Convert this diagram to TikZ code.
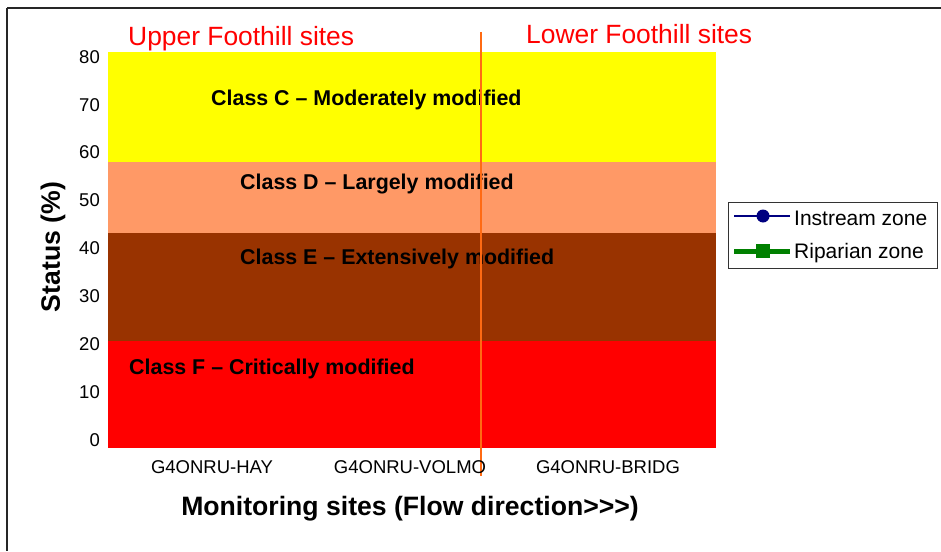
\documentclass[tikz,border=0pt]{standalone}
\usepackage{fontspec}
\setmainfont{Liberation Sans}
\definecolor{cYellow}{HTML}{FFFF00}
\definecolor{cPeach}{HTML}{FF9966}
\definecolor{cBrown}{HTML}{993300}
\definecolor{cRed}{HTML}{FF0000}
\definecolor{cOrange}{HTML}{FF6A13}
\definecolor{cNavy}{HTML}{000080}
\definecolor{cGreen}{HTML}{008000}
\tikzset{
  ticklbl/.style={anchor=east, inner sep=0pt, font=\fontsize{18.5}{20}\selectfont},
  sitelbl/.style={anchor=center, inner sep=0pt, font=\fontsize{18.5}{20}\selectfont},
  classlbl/.style={anchor=west, inner sep=0pt, font=\bfseries\fontsize{21.4}{24}\selectfont},
  zonelbl/.style={anchor=west, inner sep=0pt, text=cRed, font=\fontsize{26.4}{30}\selectfont},
  axtitle/.style={inner sep=0pt, font=\bfseries\fontsize{26.6}{30}\selectfont},
  leglbl/.style={anchor=west, inner sep=0pt, font=\fontsize{21}{24}\selectfont},
}
\begin{document}
\begin{tikzpicture}[x=1pt,y=-1pt]
\useasboundingbox (0,0) rectangle (941,551);
\fill[white] (0,0) rectangle (941,551);
% frame
\draw[line width=2pt, black!85] (7,8) -- (941,8);
\draw[line width=1.3pt, black!85] (7,8) -- (7,551);
% bands
\fill[cYellow] (108,52) rectangle (716,162);
\fill[cPeach] (108,162) rectangle (716,233);
\fill[cBrown] (108,233) rectangle (716,341);
\fill[cRed] (108,341) rectangle (716,448);
% tick labels
\foreach \v [count=\i from 0] in {0,10,20,30,40,50,60,70,80}
  \node[ticklbl] (t\v) at (100, 440-47.9*\i) {\v};
% class labels
\node[classlbl] (cC) at (211,100) {Class C – Moderately modified};
\node[classlbl] (cD) at (240,184) {Class D – Largely modified};
\node[classlbl] (cE) at (240,259) {Class E – Extensively modified};
\node[classlbl] (cF) at (129,369) {Class F – Critically modified};
% divider line
\coordinate (divtop) at (481,32);
\coordinate (divbot) at (481,476);
\draw[cOrange, line width=2pt] (divtop) -- (divbot);
% zone titles
\node[zonelbl] (upper) at (128,39) {Upper Foothill sites};
\node[zonelbl] (lower) at (526,34) {Lower Foothill sites};
% site labels
\node[sitelbl] (s1) at (212,467) {G4ONRU-HAY};
\node[sitelbl] (s2) at (410,467) {G4ONRU-VOLMO};
\node[sitelbl] (s3) at (608,467) {G4ONRU-BRIDG};
% axis titles
\node[axtitle] (xt) at (410,509) {Monitoring sites (Flow direction{>}{>}{>})};
\node[axtitle, rotate=90] (yt) at (53,247) {Status (\%)};
% legend
\draw[black!80, line width=1pt] (728,202) rectangle (937,268);
\coordinate (l1a) at (734,216);
\coordinate (l1b) at (790,216);
\coordinate (l2a) at (734,251);
\coordinate (l2b) at (790,251);
\draw[cNavy, line width=2pt] (l1a) -- (l1b);
\fill[cNavy] (763,216) circle (6.5);
\draw[cGreen, line width=5pt] (l2a) -- (l2b);
\fill[cGreen] (756,244) rectangle (770,258);
\node[leglbl] (li) at (794,218) {Instream zone};
\node[leglbl] (lr) at (794,253) {Riparian zone};
\end{tikzpicture}
\end{document}
